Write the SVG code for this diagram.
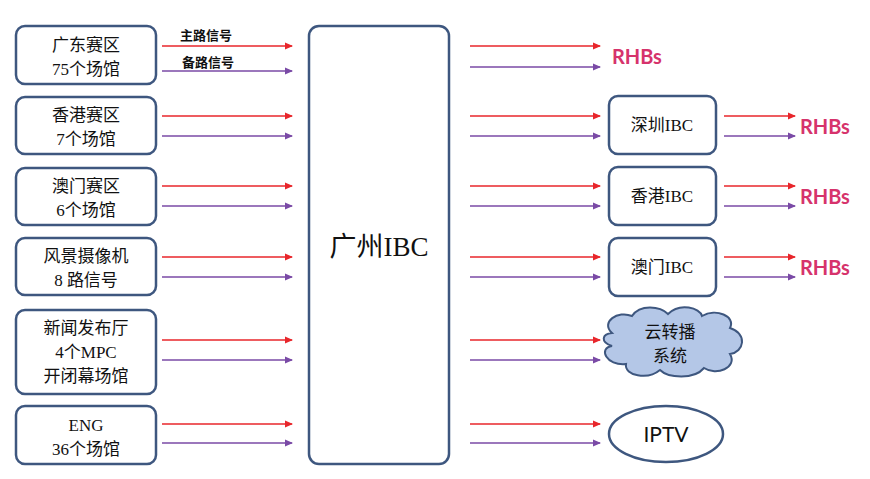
<svg xmlns="http://www.w3.org/2000/svg" width="870" height="479" viewBox="0 0 870 479">
<defs>
<marker id="r" markerWidth="8" markerHeight="8" refX="7" refY="4" orient="auto" markerUnits="userSpaceOnUse"><path d="M0,0.5 L8,4 L0,7.5z" fill="#e8262b"/></marker>
<marker id="p" markerWidth="8" markerHeight="8" refX="7" refY="4" orient="auto" markerUnits="userSpaceOnUse"><path d="M0,0.5 L8,4 L0,7.5z" fill="#7a4aa6"/></marker>
</defs>
<style>
.b{fill:#fff;stroke:#3e577f;stroke-width:2.5}
.t{font-family:"Liberation Serif","Noto Sans CJK SC",serif;font-size:17px;fill:#111;text-anchor:middle}
.rl{stroke:#e8262b;stroke-width:1.6;marker-end:url(#r)}
.pl{stroke:#7a4aa6;stroke-width:1.6;marker-end:url(#p)}
.h{font-family:Lato,"Liberation Sans",sans-serif;font-weight:bold;font-size:20px;fill:#d6336c}
</style>
<rect width="870" height="479" fill="#fff"/>
<g id="n1"><rect class="b" x="16" y="26" width="140" height="58" rx="9"/><text class="t" x="86" y="51">广东赛区</text><text class="t" x="86" y="75">75个场馆</text></g>
<g id="n2"><rect class="b" x="16" y="97" width="140" height="57" rx="9"/><text class="t" x="86" y="121">香港赛区</text><text class="t" x="86" y="145">7个场馆</text></g>
<g id="n3"><rect class="b" x="16" y="168" width="140" height="57" rx="9"/><text class="t" x="86" y="192">澳门赛区</text><text class="t" x="86" y="216">6个场馆</text></g>
<g id="n4"><rect class="b" x="16" y="238" width="140" height="57" rx="9"/><text class="t" x="86" y="262">风景摄像机</text><text class="t" x="86" y="286">8 路信号</text></g>
<g id="n5"><rect class="b" x="16" y="310" width="140" height="84" rx="9"/><text class="t" x="86" y="334">新闻发布厅</text><text class="t" x="86" y="358">4个MPC</text><text class="t" x="86" y="382">开闭幕场馆</text></g>
<g id="n6"><rect class="b" x="16" y="406" width="140" height="58" rx="9"/><text class="t" x="86" y="431">ENG</text><text class="t" x="86" y="455">36个场馆</text></g>
<g id="ibc"><rect class="b" x="309" y="26" width="140" height="438" rx="10"/><text class="t" x="379" y="256" style="font-size:27px">广州IBC</text></g>
<g id="sz"><rect class="b" x="609" y="96" width="107" height="58" rx="9"/><text class="t" x="662" y="131">深圳IBC</text></g>
<g id="hk"><rect class="b" x="609" y="167" width="107" height="58" rx="9"/><text class="t" x="662" y="202">香港IBC</text></g>
<g id="mo"><rect class="b" x="609" y="238" width="107" height="58" rx="9"/><text class="t" x="662" y="273">澳门IBC</text></g>
<g id="cloud"><path d="M612,333 C600,322 618,310 632,316 C640,304 660,306 668,314 C680,302 700,308 702,316 C716,308 736,316 730,328 C748,334 744,352 730,354 C738,368 716,376 704,368 C694,380 668,378 660,370 C648,380 624,376 626,364 C606,366 598,348 612,346 C600,342 602,334 612,333z" fill="#b4c7e7" stroke="#3e577f" stroke-width="2"/><text class="t" x="670" y="338">云转播</text><text class="t" x="670" y="362">系统</text></g>
<g id="iptv"><ellipse cx="666" cy="434" rx="57" ry="28" fill="#fff" stroke="#3e577f" stroke-width="2.5"/><text x="666" y="442" style="font-family:Lato,'Liberation Sans',sans-serif;font-size:21px;text-anchor:middle;fill:#111">IPTV</text></g>
<g id="labels"><text class="h" x="612" y="64">RHBs</text><text class="h" x="800" y="134">RHBs</text><text class="h" x="800" y="204">RHBs</text><text class="h" x="800" y="275">RHBs</text>
<text x="180" y="40" style="font-family:'Noto Sans CJK SC',sans-serif;font-size:13px;font-weight:bold;fill:#111">主路信号</text>
<text x="182" y="67" style="font-family:'Noto Sans CJK SC',sans-serif;font-size:13px;font-weight:bold;fill:#111">备路信号</text></g>
<g id="connectors">
<line class="rl" x1="162" y1="46" x2="292" y2="46"/><line class="pl" x1="162" y1="71" x2="292" y2="71"/>
<line class="rl" x1="162" y1="116" x2="292" y2="116"/><line class="pl" x1="162" y1="136" x2="292" y2="136"/>
<line class="rl" x1="162" y1="186" x2="292" y2="186"/><line class="pl" x1="162" y1="206" x2="292" y2="206"/>
<line class="rl" x1="162" y1="257" x2="292" y2="257"/><line class="pl" x1="162" y1="277" x2="292" y2="277"/>
<line class="rl" x1="162" y1="340" x2="292" y2="340"/><line class="pl" x1="162" y1="360" x2="292" y2="360"/>
<line class="rl" x1="162" y1="424" x2="292" y2="424"/><line class="pl" x1="162" y1="443" x2="292" y2="443"/>
<line class="rl" x1="470" y1="46" x2="600" y2="46"/><line class="pl" x1="470" y1="67" x2="600" y2="67"/>
<line class="rl" x1="470" y1="116" x2="600" y2="116"/><line class="pl" x1="470" y1="136" x2="600" y2="136"/>
<line class="rl" x1="470" y1="186" x2="600" y2="186"/><line class="pl" x1="470" y1="206" x2="600" y2="206"/>
<line class="rl" x1="470" y1="257" x2="600" y2="257"/><line class="pl" x1="470" y1="277" x2="600" y2="277"/>
<line class="rl" x1="470" y1="340" x2="600" y2="340"/><line class="pl" x1="470" y1="360" x2="600" y2="360"/>
<line class="rl" x1="470" y1="424" x2="600" y2="424"/><line class="pl" x1="470" y1="443" x2="600" y2="443"/>
<line class="rl" x1="724" y1="116" x2="795" y2="116"/><line class="pl" x1="724" y1="136" x2="795" y2="136"/>
<line class="rl" x1="724" y1="186" x2="795" y2="186"/><line class="pl" x1="724" y1="206" x2="795" y2="206"/>
<line class="rl" x1="724" y1="257" x2="795" y2="257"/><line class="pl" x1="724" y1="277" x2="795" y2="277"/>
</g>
</svg>
